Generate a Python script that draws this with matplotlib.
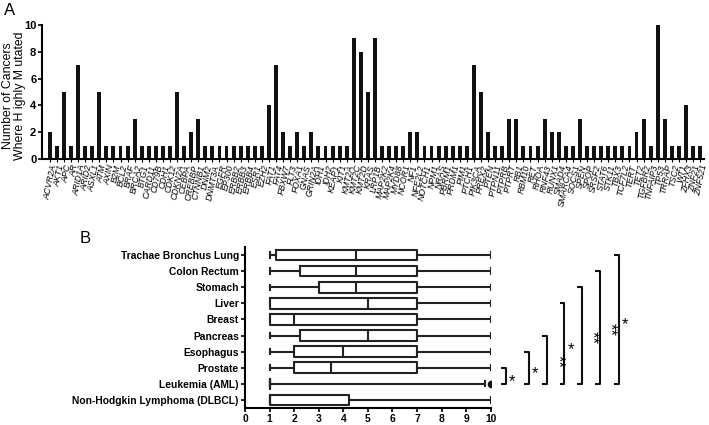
import matplotlib
matplotlib.use("Agg")
import matplotlib.pyplot as plt

plt.rcParams['font.family'] = ['Liberation Sans', 'DejaVu Sans']

# Panel A : nombre de cancers ou le gene est fortement mute
genes = ["ACVR2A", "AKT1", "APC", "AR", "ARID1A", "ARID2", "ASXL1", "ATM", "AXIN", "B2M",
         "BCL2", "BRAF", "BRCA2", "BTG1", "CARD11", "CD79B", "CDH1", "CDK12", "CDKN2A", "CEBPA",
         "CREBBP", "CTNNB1", "DNM2", "DNMT3A", "EGFR", "EP300", "ERBB2", "ERBB3", "ERBB4", "ESR1",
         "EZH2", "FAT1", "FAT4", "FBXW7", "FLT3", "FOXA1", "GNAS", "GRIN2A", "IDH1", "IDH2",
         "KEAP1", "KIT1", "KMT2A", "KMT2C", "KMT2D", "KRAS", "LRP1B", "MAP2K2", "MAP2K4", "MYD88",
         "NCOR1", "NF1", "NFE2L2", "NOTCH1", "NPM1", "NRAS", "PBRM1", "PRDM1", "PIM1", "PTCH1",
         "PIK3CA", "PREX2", "PTEN", "PTPN11", "PTPRB", "PTPRT", "RB1", "RBM10", "RET", "RHOA",
         "RNF43", "RUNX1", "SMAD4", "SMARCA4", "SOCS1", "SPEN", "SPOP", "SRSF2", "STAT6", "STK11",
         "TBX3", "TCF7L2", "TERT", "TET2", "TGFBR2", "TNFAIP3", "TP53", "TRRAP", "TSC2", "WT1",
         "ZFHX3", "ZNF21", "ZNF521"]
counts = [2, 1, 5, 1, 7, 1, 1, 5, 1, 1,
          1, 1, 3, 1, 1, 1, 1, 1, 5, 1,
          2, 3, 1, 1, 1, 1, 1, 1, 1, 1,
          1, 4, 7, 2, 1, 2, 1, 2, 1, 1,
          1, 1, 1, 9, 8, 5, 9, 1, 1, 1,
          1, 2, 2, 1, 1, 1, 1, 1, 1, 1,
          7, 5, 2, 1, 1, 3, 3, 1, 1, 1,
          3, 2, 2, 1, 1, 3, 1, 1, 1, 1,
          1, 1, 1, 2, 3, 1, 10, 3, 1, 1,
          4, 1, 1]

# Panel B : boites par type de cancer
cancers = ["Trachae Bronchus Lung", "Colon Rectum", "Stomach", "Liver", "Breast", "Pancreas",
           "Esophagus", "Prostate", "Leukemia (AML)", "Non-Hodgkin Lymphoma (DLBCL)"]
whislo = [1, 1, 1, 1, 1, 1, 1, 1, 1, 1]
q1 = [1.25, 2.25, 3, 1, 1, 2.25, 2, 2, 1, 1]
med = [4.5, 4.5, 4.5, 5, 2, 5, 4, 3.5, 1, 1]
q3 = [7, 7, 7, 7, 7, 7, 7, 7, 1, 4.25]
whishi = [10, 10, 10, 10, 10, 10, 10, 10, 9.75, 10]
fliers = [[], [], [], [], [], [], [], [], [10], []]

# crochets de significativite (ligne du haut -> Leukemia)
br_top = [7, 6, 5, 3, 2, 1, 0]
br_x = [10.6, 11.55, 12.3, 13.0, 13.7, 14.45, 15.2]
br_lab = ["*", "*", "**", "*", "**", "**", "*"]
br_bottom = 8

fig = plt.figure(figsize=(7.09, 4.25), dpi=100)

# ---- A
axA = fig.add_axes([0.059, 0.626, 0.934, 0.315])
axA.bar(range(len(genes)), counts, width=0.55, color="#111111")
axA.set_xlim(-1.13, len(genes) - 0.45)
axA.set_ylim(0, 10)
axA.set_yticks([0, 2, 4, 6, 8, 10])
axA.set_xticks(range(len(genes)))
axA.set_xticklabels(genes, rotation=78, ha="right", rotation_mode="anchor",
                    fontsize=6.3, fontstyle="italic")
axA.tick_params(axis="x", length=2, width=0.8, pad=1.5)
axA.tick_params(axis="y", labelsize=8, width=1.2, length=3, pad=1)
for t in axA.get_yticklabels():
    t.set_fontweight("bold")
axA.set_ylabel("Number of Cancers\nWhere H ighly M utated", fontsize=8.8, linespacing=0.95)
axA.yaxis.set_label_coords(-0.024, 0.47)
for s in ["top", "right"]:
    axA.spines[s].set_visible(False)
axA.spines["left"].set_linewidth(1.5)
axA.spines["bottom"].set_linewidth(1.5)
fig.text(0.006, 0.994, "A", fontsize=12, va="top")

# ---- B
axB = fig.add_axes([0.3456, 0.04, 0.3466, 0.379])
stats = []
for i in range(len(cancers)):
    stats.append(dict(whislo=whislo[i], q1=q1[i], med=med[i], q3=q3[i],
                      whishi=whishi[i], fliers=fliers[i]))
lw = 1.5
axB.bxp(stats, positions=range(len(cancers)), orientation="horizontal", widths=0.66,
        boxprops=dict(linewidth=lw, color="#222222"),
        medianprops=dict(linewidth=lw, color="#222222"),
        whiskerprops=dict(linewidth=lw, color="#222222"),
        capprops=dict(linewidth=lw, color="#222222"),
        flierprops=dict(marker="o", markerfacecolor="#111111", markeredgecolor="#111111",
                        markersize=4.5),
        manage_ticks=False)
axB.set_ylim(len(cancers) - 0.5, -0.5)
axB.set_xlim(0, 10)
axB.set_xticks(range(11))
axB.set_yticks(range(len(cancers)))
axB.set_yticklabels(cancers, fontsize=7.4, fontweight="bold")
axB.tick_params(axis="x", labelsize=7.4, width=1.2, length=3, pad=1.5)
axB.tick_params(axis="y", width=1.2, length=3, pad=1.5)
for t in axB.get_xticklabels():
    t.set_fontweight("bold")
for s in ["top", "right"]:
    axB.spines[s].set_visible(False)
axB.spines["left"].set_linewidth(1.5)
axB.spines["bottom"].set_linewidth(1.5)

for top, x, lab in zip(br_top, br_x, br_lab):
    axB.plot([x - 0.2, x, x, x - 0.2], [top, top, br_bottom, br_bottom],
             color="#111111", lw=1.5, clip_on=False, solid_capstyle="butt")
    ymid = (top + br_bottom) / 2 + 0.1
    if lab == "**":
        axB.text(x + 0.12, ymid, lab, rotation=270, fontsize=12,
                 ha="left", va="center", clip_on=False)
    else:
        axB.text(x + 0.12, ymid + 0.25, lab, fontsize=12,
                 ha="left", va="center", clip_on=False)

fig.text(0.113, 0.457, "B", fontsize=12, va="top")

fig.savefig("out.png", dpi=100)
